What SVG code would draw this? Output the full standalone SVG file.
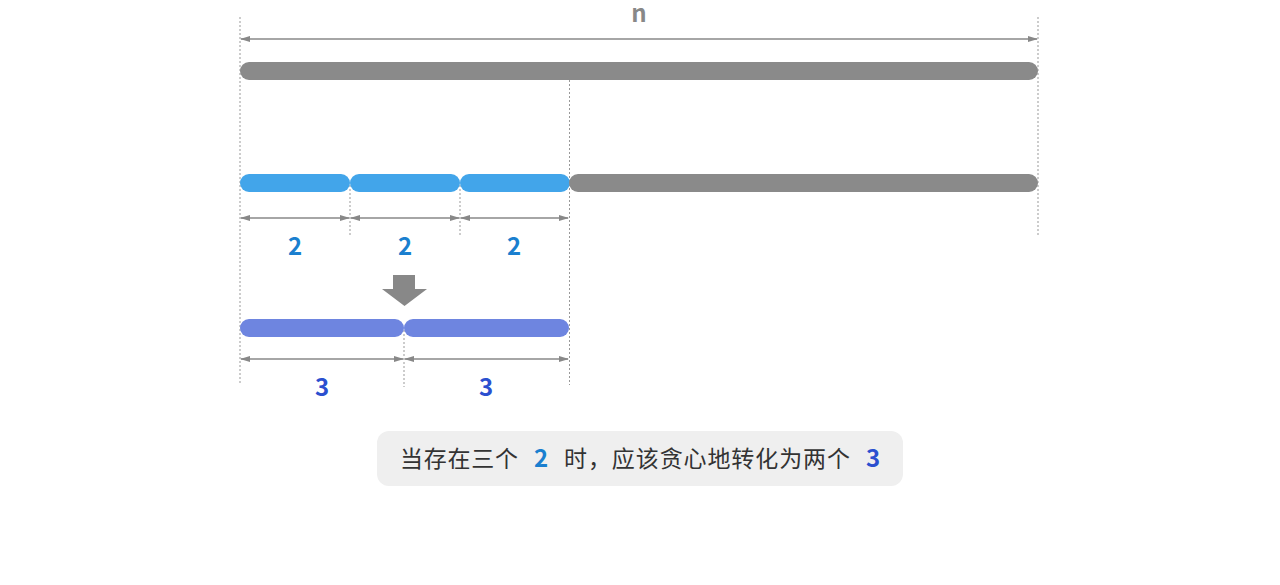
<svg xmlns="http://www.w3.org/2000/svg" width="1280" height="585" viewBox="0 0 1280 585">
<defs>
<style>
.g{stroke:#888;stroke-width:1.5}
.d{stroke:#999;stroke-width:1;stroke-dasharray:2 2}
.t{font-family:"Noto Sans CJK SC","Noto Sans",sans-serif;font-weight:bold;font-size:24px;text-anchor:middle}
.c{font-family:"Noto Sans CJK SC",sans-serif;font-size:23px;fill:#333}
</style>
<marker id="a" viewBox="0 0 10 10" refX="9" refY="5" markerWidth="7" markerHeight="7" orient="auto-start-reverse"><path d="M0,2L10,5L0,8z" fill="#888"/></marker>
</defs>
<rect width="1280" height="585" fill="#fff"/>
<g id="guides">
<line class="d" x1="240" y1="17" x2="240" y2="385"/>
<line class="d" x1="1038" y1="17" x2="1038" y2="237"/>
<line class="d" x1="569.5" y1="80" x2="569.5" y2="385"/>
<line class="d" x1="350" y1="185" x2="350" y2="237"/>
<line class="d" x1="460" y1="185" x2="460" y2="237"/>
<line class="d" x1="404" y1="330" x2="404" y2="387"/>
</g>
<g id="bars">
<rect x="240" y="62" width="798" height="18" rx="9" fill="#8a8a8a"/>
<rect x="240" y="174" width="110" height="18" rx="9" fill="#42a5ea"/>
<rect x="350" y="174" width="110" height="18" rx="9" fill="#42a5ea"/>
<rect x="460" y="174" width="110" height="18" rx="9" fill="#42a5ea"/>
<rect x="569" y="174" width="469" height="18" rx="9" fill="#8a8a8a"/>
<rect x="240" y="319" width="164" height="18" rx="9" fill="#6e85e0"/>
<rect x="404" y="319" width="165" height="18" rx="9" fill="#6e85e0"/>
</g>
<g id="connectors">
<line class="g" x1="241" y1="39" x2="1037" y2="39" marker-start="url(#a)" marker-end="url(#a)"/>
<line class="g" x1="241" y1="218" x2="349" y2="218" marker-start="url(#a)" marker-end="url(#a)"/>
<line class="g" x1="351" y1="218" x2="459" y2="218" marker-start="url(#a)" marker-end="url(#a)"/>
<line class="g" x1="461" y1="218" x2="568" y2="218" marker-start="url(#a)" marker-end="url(#a)"/>
<line class="g" x1="241" y1="359" x2="403" y2="359" marker-start="url(#a)" marker-end="url(#a)"/>
<line class="g" x1="405" y1="359" x2="568" y2="359" marker-start="url(#a)" marker-end="url(#a)"/>
</g>
<g id="arrow"><path d="M393,275H415V289H427L404.5,306L382,289H393Z" fill="#888"/></g>
<g id="labels">
<text class="t" x="639" y="22" fill="#888">n</text>
<text class="t" x="295" y="255" fill="#1a7fcf">2</text>
<text class="t" x="405" y="255" fill="#1a7fcf">2</text>
<text class="t" x="514" y="255" fill="#1a7fcf">2</text>
<text class="t" x="322" y="396" fill="#2b4fcf">3</text>
<text class="t" x="486" y="396" fill="#2b4fcf">3</text>
</g>
<g id="caption">
<rect x="377" y="431" width="526" height="55" rx="12" fill="#efefef"/>
<text class="c" x="400" y="467" textLength="118">当存在三个</text>
<text class="t" x="541" y="467" fill="#1a7fcf">2</text>
<text class="c" x="564" y="467" textLength="286">时，应该贪心地转化为两个</text>
<text class="t" x="873" y="467" fill="#2b4fcf">3</text>
</g>
</svg>
